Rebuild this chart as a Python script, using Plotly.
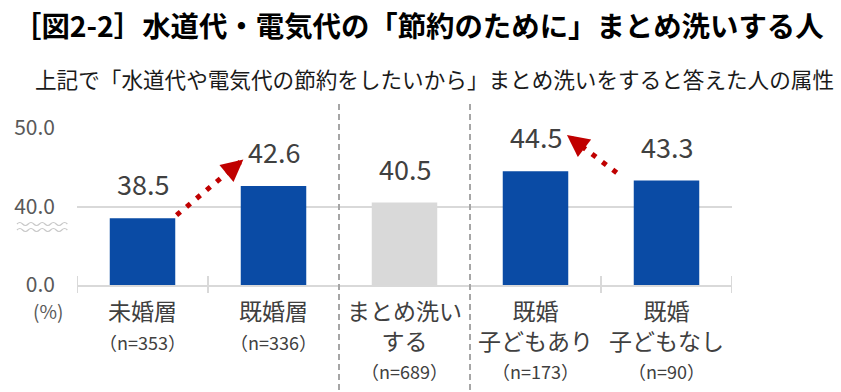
import plotly.graph_objects as go

# ---------------- data ----------------
categories = ["未婚層", "既婚層", "まとめ洗い<br>する", "既婚<br>子どもあり", "既婚<br>子どもなし"]
sample_sizes = [353, 336, 689, 173, 90]
values = [38.5, 42.6, 40.5, 44.5, 43.3]
bar_colors = ["#0a4ba5", "#0a4ba5", "#d9d9d9", "#0a4ba5", "#0a4ba5"]
y_tick_vals = [30, 40, 50]
y_tick_text = ["0.0", "40.0", "50.0"]
# arrows (category index, value) : from -> to
arrow_from = [(0.26, 38.9), (3.62, 44.3)]
arrow_to = [(0.77, 46.0), (3.24, 49.1)]
separators = [1.5, 2.5]

title_text = "［図2-2］水道代・電気代の「節約のために」まとめ洗いする人"
subtitle_text = "上記で「水道代や電気代の節約をしたいから」まとめ洗いをすると答えた人の属性"

FONT = "Noto Sans CJK JP"
W, H = 841, 392
ML, MR, MT, MB = 77, 109, 128, 107
PW, PH = W - ML - MR, H - MT - MB
Y0, Y1 = 30, 50
N = len(categories)


def px_paper(px, py):
    return (px - ML) / PW, (H - MB - py) / PH


def data_px(x, y):
    return ML + (x + 0.5) / N * PW, MT + (Y1 - y) / (Y1 - Y0) * PH


ticklabels = [
    f"{c}<br><span style='font-size:18px'>（n={n}）</span>"
    for c, n in zip(categories, sample_sizes)
]

fig = go.Figure()
fig.add_trace(
    go.Bar(
        x=ticklabels,
        y=values,
        marker=dict(color=bar_colors, line=dict(width=0)),
        width=0.5,
        hoverinfo="skip",
    )
)

# value labels
for lab, v in zip(ticklabels, values):
    fig.add_annotation(
        x=lab, y=v, text=f"{v:.1f}", showarrow=False, yanchor="bottom",
        yshift=13, font=dict(family=FONT, size=27, color="#404040"),
    )

shapes = []
# dashed separators
for s in separators:
    shapes.append(dict(type="line", xref="x", yref="paper", x0=s, x1=s,
                       y0=(MB - H) / PH, y1=(H - MB - 103) / PH,
                       line=dict(color="#a6a6a6", width=2, dash="6px,4px")))
# small ticks on baseline at boundaries
for b in [-0.5, 0.5, 3.5, 4.5]:
    shapes.append(dict(type="line", xref="x", yref="paper", x0=b, x1=b,
                       y0=-8 / PH, y1=9 / PH,
                       line=dict(color="#d9d9d9", width=2)))

# dotted arrows
for (fx, fy), (tx, ty) in zip(arrow_from, arrow_to):
    shapes.append(dict(type="line", xref="x", yref="y", x0=fx, y0=fy, x1=tx, y1=ty,
                       line=dict(color="#c00000", width=5, dash="5px,8px")))
    p0 = data_px(fx, fy)
    p1 = data_px(tx, ty)
    dx, dy = p1[0] - p0[0], p1[1] - p0[1]
    L = (dx * dx + dy * dy) ** 0.5
    ux, uy = dx / L, dy / L
    fig.add_annotation(x=tx, y=ty, xref="x", yref="y", text="", showarrow=True,
                       ax=-ux * 20, ay=-uy * 20, arrowhead=2, arrowsize=2.2,
                       arrowwidth=2, arrowcolor="#c00000", standoff=0)

# axis-break wavy marks
for wy in (224, 230):
    x = 17
    sx, sy = px_paper(17, wy)
    d = f"M{sx:.4f},{sy:.4f}"
    k = 0
    while x < 62:
        cx, cy = px_paper(x + 2.8, wy + (-3 if k % 2 == 0 else 3))
        ex, ey = px_paper(x + 5.6, wy)
        d += f" Q{cx:.4f},{cy:.4f} {ex:.4f},{ey:.4f}"
        x += 5.6
        k += 1
    shapes.append(dict(type="path", xref="paper", yref="paper", path=d,
                       line=dict(color="#c8c8c8", width=1.2)))

fig.update_layout(shapes=shapes)

# (%) label
pxp, pyp = px_paper(48, 310)
fig.add_annotation(xref="paper", yref="paper", x=pxp, y=pyp, text="(%)", showarrow=False,
                   xanchor="center", yanchor="middle",
                   font=dict(family=FONT, size=19, color="#595959"))
# subtitle
sxp, syp = px_paper(434, 78)
fig.add_annotation(xref="paper", yref="paper", x=sxp, y=syp, text=subtitle_text,
                   showarrow=False, xanchor="center", yanchor="middle",
                   font=dict(family=FONT, size=21.6, color="#1a1a1a"))
# title
txp, typ = px_paper(418, 25)
fig.add_annotation(xref="paper", yref="paper", x=txp, y=typ, text=f"<b>{title_text}</b>",
                   showarrow=False, xanchor="center", yanchor="middle",
                   font=dict(family=FONT, size=28.4, color="#000000"))

fig.update_layout(
    width=W, height=H,
    margin=dict(l=ML, r=MR, t=MT, b=MB, pad=0, autoexpand=False),
    paper_bgcolor="white", plot_bgcolor="white",
    showlegend=False,
    xaxis=dict(
        type="category", showgrid=False, showline=True, linecolor="#d9d9d9", linewidth=2,
        ticks="", tickfont=dict(family=FONT, size=23, color="#404040"),
        ticklabelstandoff=5, range=[-0.5, N - 0.5], fixedrange=True, automargin=False,
    ),
    yaxis=dict(
        range=[Y0, Y1], tickvals=y_tick_vals, ticktext=y_tick_text,
        showgrid=True, gridcolor="#d9d9d9", gridwidth=2, zeroline=False,
        showline=False, ticks="", ticklabelstandoff=21, automargin=False,
        tickfont=dict(family=FONT, size=21, color="#595959"), fixedrange=True,
    ),
    bargap=0.5,
)

fig.write_html(
    "out.html",
    config={"displayModeBar": False},
    post_script="document.body.style.margin='0px';document.body.style.overflow='hidden';",
)
